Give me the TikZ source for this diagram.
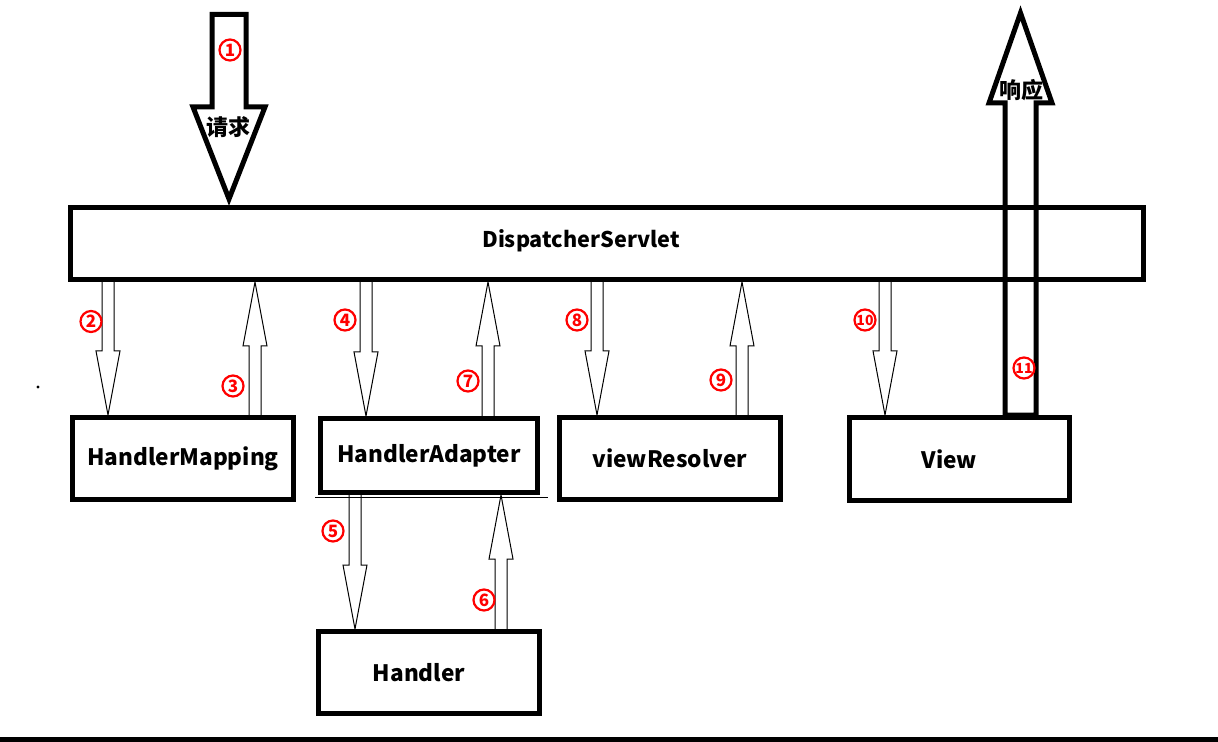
\documentclass[tikz,border=0pt]{standalone}
\usepackage{fontspec}
\setmainfont{Noto Sans CJK SC}
\usetikzlibrary{positioning}

\tikzset{
  box/.style={draw, line width=2.5pt, inner sep=0pt, font=\bfseries\fontsize{11.3}{14}\selectfont},
  num/.style={circle, draw=red, line width=1.1pt, text=red, inner sep=0pt, minimum size=10.5pt, font=\bfseries\fontsize{8.5}{8.5}\selectfont},
  flow/.style={draw, line width=0.5pt, line join=miter},
  bigflow/.style={draw, line width=2.5pt, line join=miter},
}

% thin block arrows between boxes: #1 x, #2 upper box, #3 lower box
\newcommand\godown[3]{%
  \path (#2.south -| #1,0) coordinate (t) (#3.north -| #1,0) coordinate (b);
  \draw[flow] ([xshift=-3pt]t) -- ([xshift=-3pt,yshift=32pt]b) -- ([xshift=-6pt,yshift=32pt]b)
    -- (b) -- ([xshift=6pt,yshift=32pt]b) -- ([xshift=3pt,yshift=32pt]b) -- ([xshift=3pt]t);
}
\newcommand\goup[3]{%
  \path (#2.south -| #1,0) coordinate (t) (#3.north -| #1,0) coordinate (b);
  \draw[flow] ([xshift=-3pt]b) -- ([xshift=-3pt,yshift=-32pt]t) -- ([xshift=-6pt,yshift=-32pt]t)
    -- (t) -- ([xshift=6pt,yshift=-32pt]t) -- ([xshift=3pt,yshift=-32pt]t) -- ([xshift=3pt]b);
}

\begin{document}
\begin{tikzpicture}[x=0.5pt, y=-0.5pt]
  \useasboundingbox (0,0) rectangle (1218,742);

  \node[box, minimum width=536.5pt, minimum height=36pt] (ds) at (607,243.5) {};
  \node[font=\bfseries\fontsize{10.8}{13}\selectfont] (dsl) at (581,241) {DispatcherServlet};

  \node[box, minimum width=110.5pt, minimum height=41pt] (hm) at (183,458.5) {HandlerMapping};
  \node[box, minimum width=108.5pt, minimum height=37pt] (ha) at (429,455.5) {HandlerAdapter};
  \node[box, minimum width=110.5pt, minimum height=41pt] (vr) at (670,458.5) {viewResolver};
  \node[box, minimum width=110pt, minimum height=41.5pt] (v) at (959.5,459) {View\rule{10pt}{0pt}};
  \node[box, minimum width=110.5pt, minimum height=41pt, below=67pt of ha] (h) {Handler\rule{10pt}{0pt}};

  \draw[line width=0.5pt] ([xshift=-1.5pt,yshift=-1pt]ha.south west) -- ([xshift=4pt,yshift=-1pt]ha.south east);

  % request
  \coordinate (req) at (229,14.5);
  \coordinate (rt) at ([yshift=3pt]ds.north -| 229,0);
  \draw[bigflow] ([xshift=-8.5pt]req) -- ([xshift=-8.5pt,yshift=46pt]rt) -- ([xshift=-18pt,yshift=46pt]rt)
    -- (rt) -- ([xshift=18pt,yshift=46pt]rt) -- ([xshift=8.5pt,yshift=46pt]rt) -- ([xshift=8.5pt]req) -- cycle;
  \node[font=\bfseries\fontsize{11}{11}\selectfont] (rq) at (228,127) {请求};

  % response
  \coordinate (resp) at (1020.5,13);
  \coordinate (rb) at (v.north -| 1020.5,0);
  \draw[bigflow] ([xshift=-7.75pt]rb) -- ([xshift=-7.75pt,yshift=-45pt]resp) -- ([xshift=-15.75pt,yshift=-45pt]resp)
    -- (resp) -- ([xshift=15.75pt,yshift=-45pt]resp) -- ([xshift=7.75pt,yshift=-45pt]resp) -- ([xshift=7.75pt]rb) -- cycle;
  \node[font=\bfseries\fontsize{11}{11}\selectfont] (rs) at (1021,90) {响应};

  \godown{108}{ds}{hm}
  \goup{255}{ds}{hm}
  \godown{366}{ds}{ha}
  \goup{488}{ds}{ha}
  \godown{355}{ha}{h}
  \goup{501}{ha}{h}
  \godown{597}{ds}{vr}
  \goup{742}{ds}{vr}
  \godown{885}{ds}{v}

  \node[num] (n1) at (230,50) {1};
  \node[num] (n2) at (91,321.5) {2};
  \node[num] (n3) at (233,386) {3};
  \node[num] (n4) at (345,320) {4};
  \node[num] (n5) at (333,531) {5};
  \node[num] (n6) at (484,600) {6};
  \node[num] (n7) at (468,381) {7};
  \node[num] (n8) at (577,320) {8};
  \node[num] (n9) at (721,380) {9};
  \node[num, font=\bfseries\fontsize{7}{7}\selectfont] (n10) at (865,320) {10};
  \node[num, font=\bfseries\fontsize{7}{7}\selectfont] (n11) at (1024,368) {11};

  \fill (38,387) circle (0.8pt);
  \draw[line width=2.5pt] (0,739.5) -- (1218,739.5);
\end{tikzpicture}
\end{document}
